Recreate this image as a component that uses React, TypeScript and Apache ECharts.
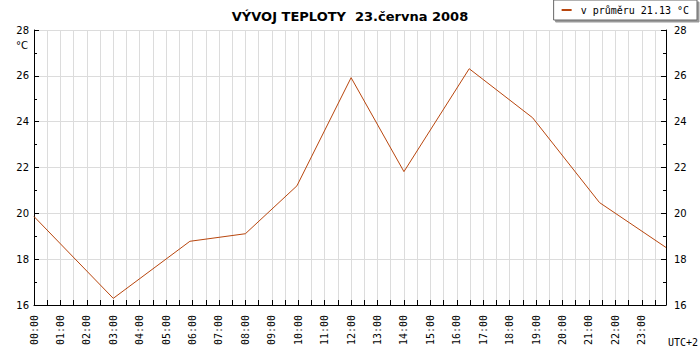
import React, { useEffect, useRef } from "react";
import * as echarts from "echarts";

const titleText = "VÝVOJ TEPLOTY  23.června 2008";
const seriesName = "v průměru 21.13 °C";
// time in hours, temperature in °C (vertices)
const times = [0, 3, 5.9, 8, 9.95, 12, 14, 16.47, 18.87, 21.4, 23.917];
const temps = [19.86, 16.29, 18.78, 19.11, 21.2, 25.92, 21.82, 26.31, 24.17, 20.47, 18.51];
const yMin = 16;
const yMax = 28;
const xMax = 23.917;
const unitLabel = "°C";
const tzLabel = "UTC+2";

const lineColor = "#b8460e";
const gridColor = "#dcdcdc";
const sans = "DejaVu Sans";
const mono = "DejaVu Sans Mono";

function fmtHour(v: number): string {
  if (Math.abs(v - Math.round(v)) > 1e-6) return "";
  const h = Math.round(v);
  if (h > 23) return "";
  return (h < 10 ? "0" : "") + h + ":00";
}

export default function App() {
  const ref = useRef<HTMLDivElement>(null);
  useEffect(() => {
    if (!ref.current) return;
    const chart = echarts.init(ref.current, undefined, { renderer: "svg" });
    const data = times.map((t, i) => [t, temps[i]]);
    const yAxisBase = (pos: "left" | "right") => ({
      type: "value",
      position: pos,
      min: yMin,
      max: yMax,
      interval: 2,
      axisLine: { show: true, lineStyle: { color: "#000", width: 1 } },
      axisTick: { show: true, inside: true, length: 5, lineStyle: { color: "#000" } },
      minorTick: { show: true, splitNumber: 2, length: 3, lineStyle: { color: "#000" } },
      splitLine: { show: pos === "left", lineStyle: { color: gridColor, width: 1 } },
      axisLabel: {
        margin: pos === "left" ? 5 : 8,
        fontFamily: sans,
        fontSize: 10,
        color: "#000",
      },
    });
    chart.setOption({
      animation: false,
      backgroundColor: "#fff",
      title: {
        text: titleText,
        left: "center",
        top: 5,
        textStyle: { fontFamily: sans, fontSize: 13, fontWeight: "bold", color: "#000" },
      },
      legend: {
        right: 3,
        top: 0,
        backgroundColor: "#fff",
        borderColor: "#666",
        borderWidth: 1,
        shadowColor: "#999",
        shadowOffsetX: 2,
        shadowOffsetY: 2,
        shadowBlur: 0,
        padding: [5, 8, 5, 8],
        itemWidth: 10,
        itemHeight: 2,
        icon: "rect",
        textStyle: { fontFamily: mono, fontSize: 10, color: "#000", padding: [0, 0, 0, 4] },
      },
      grid: { left: 34, right: 34, top: 30, bottom: 45 },
      xAxis: {
        type: "value",
        min: 0,
        max: xMax,
        interval: 0.5,
        axisLine: { show: true, onZero: false, lineStyle: { color: "#000", width: 1 } },
        axisTick: { show: true, inside: true, length: 5, lineStyle: { color: "#000" } },
        splitLine: { show: true, lineStyle: { color: gridColor, width: 1 } },
        axisLabel: {
          rotate: 90,
          margin: 10,
          fontFamily: mono,
          fontSize: 10,
          color: "#000",
          showMaxLabel: false,
          formatter: (v: number) => fmtHour(v),
        },
      },
      yAxis: [yAxisBase("left"), yAxisBase("right")],
      graphic: [
        {
          type: "text",
          left: 16,
          top: 40,
          style: { text: unitLabel, fontFamily: sans, fontSize: 10, fill: "#000" },
        },
        {
          type: "text",
          left: 668,
          top: 337,
          style: { text: tzLabel, fontFamily: mono, fontSize: 10, fill: "#000" },
        },
      ],
      series: [
        {
          name: seriesName,
          type: "line",
          data,
          showSymbol: false,
          symbol: "none",
          color: lineColor,
          lineStyle: { color: lineColor, width: 1 },
        },
      ],
    });
    return () => chart.dispose();
  }, []);
  return <div ref={ref} style={{ width: 700, height: 350, position: "absolute", left: 0, top: 0 }} />;
}
